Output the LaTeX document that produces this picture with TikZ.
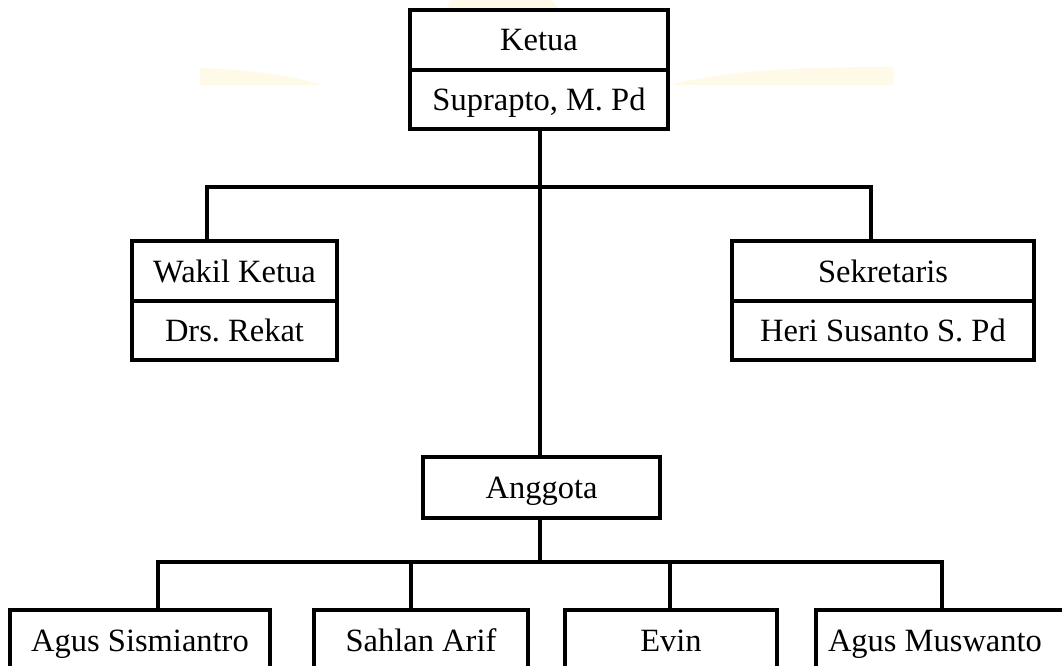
\documentclass[tikz,border=0pt]{standalone}
\usepackage{fontspec}
\setmainfont{Liberation Serif}
\frenchspacing
\definecolor{wm}{RGB}{255,250,232}
\begin{document}
\begin{tikzpicture}[x=1pt,y=-1pt,
  box/.style={draw=black,fill=white,line width=3.6pt,inner sep=0pt,
    font=\fontsize{32.5}{38}\selectfont,text height=22pt,text depth=0pt},
  conn/.style={line width=3.6pt,line join=miter}]
\useasboundingbox (0,0) rectangle (1062,666);
\clip (0,0) rectangle (1062,666);
\fill[white] (0,0) rectangle (1062,666);
% faint watermark
\fill[wm] (502,45) circle (67pt);
\fill[wm] (200,85) -- (200,68) .. controls (260,70) and (300,78) .. (323,85) -- cycle;
\fill[wm] (670,85) .. controls (720,72) and (780,67) .. (893,67) -- (893,85) -- cycle;
% boxes
\node[box,minimum width=258pt,minimum height=60pt] (ketua) at (539,40) {Ketua};
\node[box,minimum width=258pt,minimum height=59pt] (suprapto) at (539,99.5) {Suprapto, M. Pd};
\node[box,minimum width=205pt,minimum height=60pt] (wakil) at (234.5,271) {Wakil Ketua};
\node[box,minimum width=205pt,minimum height=59pt] (rekat) at (234.5,330.5) {Drs. Rekat};
\node[box,minimum width=302pt,minimum height=60pt] (sek) at (883,271) {Sekretaris};
\node[box,minimum width=302pt,minimum height=59pt] (heri) at (883,330.5) {Heri Susanto S. Pd};
\node[box,minimum width=237pt,minimum height=61pt] (anggota) at (541.5,487.5) {Anggota};
\node[box,minimum width=260pt,minimum height=60pt] (a1) at (140,640) {Agus Sismiantro};
\node[box,minimum width=214pt,minimum height=60pt] (a2) at (421,640) {Sahlan Arif};
\node[box,minimum width=212pt,minimum height=60pt] (a3) at (671,640) {Evin};
\node[box,minimum width=250pt,minimum height=60pt] (a4) at (941,640) {\hspace*{-12pt}Agus Muswanto};
% connector points
\coordinate (trunk) at (540,187);
\coordinate (wl) at (207,187);
\coordinate (wr) at (871,187);
\coordinate (bar) at (540,562);
\coordinate (b1) at (158,562);
\coordinate (b2) at (411,562);
\coordinate (b3) at (670,562);
\coordinate (b4) at (942,562);
% connectors
\draw[conn] (suprapto.south -| trunk) -- (anggota.north -| trunk);
\draw[conn] (wakil.north -| wl) -- (wl) -- (wr) -- (sek.north -| wr);
\draw[conn] (anggota.south -| bar) -- (bar);
\draw[conn] (a1.north -| b1) -- (b1) -- (b4) -- (a4.north -| b4);
\draw[conn] (b2) -- (a2.north -| b2);
\draw[conn] (b3) -- (a3.north -| b3);
\end{tikzpicture}
\end{document}
